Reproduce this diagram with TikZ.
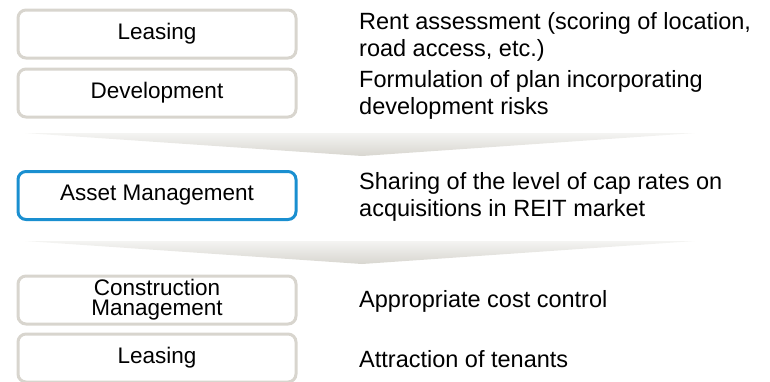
\documentclass[tikz,border=0pt]{standalone}
\usepackage{fontspec}
\setmainfont{Liberation Sans}
\definecolor{boxgray}{HTML}{D8D5CE}
\definecolor{boxblue}{HTML}{1A8FD0}
\definecolor{chevtop}{HTML}{F4F4F2}
\definecolor{chevbot}{HTML}{D8D6D0}
\begin{document}
\begin{tikzpicture}[x=1pt,y=-1pt,
  rolebox/.style={draw=boxgray, line width=3pt, rounded corners=8pt, fill=white,
    minimum width=278pt, minimum height=48pt, inner sep=0pt,
    font=\fontsize{22.5}{20}\selectfont, align=center},
  desc/.style={anchor=west, inner sep=0pt, align=left,
    font=\fontsize{23.5}{27.5}\selectfont}]
\clip (0,0) rectangle (770,381);
\useasboundingbox (0,0) rectangle (770,381);
% chevrons
\shade[top color=chevtop, bottom color=chevbot] (25,133) -- (695,133) -- (362,156) -- cycle;
\shade[top color=chevtop, bottom color=chevbot] (25,241) -- (695,241) -- (362,264) -- cycle;
% boxes
\node[rolebox] (lease1) at (157,34) {Leasing};
\node[rolebox] (dev) at (157,93) {Development};
\node[rolebox, draw=boxblue] (asset) at (157,195.5) {Asset Management};
\node[rolebox] (constr) at (157,300) {Construction\\Management};
\node[rolebox] (lease2) at (157,358) {Leasing};
% descriptions
\node[desc] (d1) at (359,37) {Rent assessment (scoring of location,\\road access, etc.)};
\node[desc] (d2) at (359,95) {Formulation of plan incorporating\\development risks};
\node[desc] (d3) at (359,197) {Sharing of the level of cap rates on\\acquisitions in REIT market};
\node[desc] (d4) at (359,301) {Appropriate cost control};
\node[desc] (d5) at (359,359) {Attraction of tenants};
\end{tikzpicture}
\end{document}
